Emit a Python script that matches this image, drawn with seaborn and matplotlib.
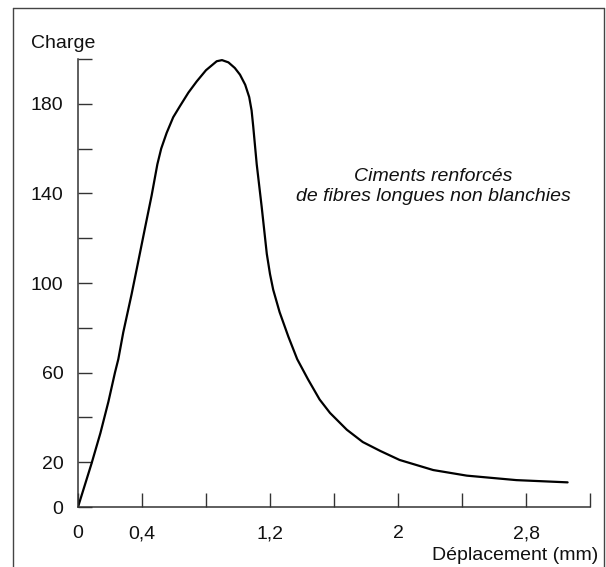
import matplotlib
matplotlib.use('Agg')
import matplotlib.pyplot as plt
import pandas as pd
import seaborn as sns
from matplotlib.lines import Line2D

# load-displacement curve
deplacement = [0.0, 0.085, 0.14, 0.19, 0.231, 0.252, 0.283, 0.335, 0.372,
               0.42, 0.46, 0.496, 0.52, 0.554, 0.595, 0.6375, 0.69, 0.742,
               0.80, 0.867, 0.90, 0.94, 0.98, 1.0125, 1.045, 1.07, 1.085,
               1.095, 1.117, 1.148, 1.18, 1.20, 1.22, 1.26, 1.315, 1.37,
               1.4375, 1.51, 1.575, 1.68, 1.78, 1.89, 2.01, 2.22, 2.43,
               2.74, 3.06]
charge = [0, 19.5, 33, 47, 60, 66, 78, 95, 108,
          125, 139, 153, 160, 167, 174, 179, 185, 190,
          195, 199, 199.5, 198.5, 196, 193, 188.5, 183, 177,
          170, 153, 134, 113, 104, 97, 87, 76, 66,
          57, 48, 42, 34.5, 29, 25, 21, 16.5, 14,
          12, 11]

x_ticks = [0, 0.4, 0.8, 1.2, 1.6, 2.0, 2.4, 2.8, 3.2]
x_ticklabels = ['0', '0,4', '', '1,2', '', '2', '', '2,8', '']
y_ticks = [0, 20, 40, 60, 80, 100, 120, 140, 160, 180, 200]
y_ticklabels = ['0', '20', '', '60', '', '100', '', '140', '', '180', '']

df = pd.DataFrame({'deplacement': deplacement, 'charge': charge})

sns.set_theme(style='ticks')
plt.rcParams['font.family'] = ['Liberation Sans', 'DejaVu Sans']

fig = plt.figure(figsize=(6.06, 5.67), dpi=100)
ax = fig.add_axes([78 / 606, 60 / 567, 512 / 606, 448 / 567])

sns.lineplot(data=df, x='deplacement', y='charge', sort=False,
             color='black', linewidth=1.6, ax=ax)
for line in ax.lines:
    line.set_solid_joinstyle('round')
    line.set_solid_capstyle('round')

ax.set_xlim(0, 3.2)
ax.set_ylim(0, 200)
ax.set_xticks(x_ticks)
ax.set_xticklabels(x_ticklabels)
ax.set_yticks(y_ticks)
ax.set_yticklabels(y_ticklabels)
ax.tick_params(axis='both', direction='in', length=10, width=1,
               color='#333333', labelsize=14, labelcolor='#111111')
ax.tick_params(axis='x', pad=13)
ax.tick_params(axis='y', pad=10.5)
sns.despine(ax=ax)
for s in ['left', 'bottom']:
    ax.spines[s].set_color('#333333')
    ax.spines[s].set_linewidth(1.1)
ax.set_xlabel('')
ax.set_ylabel('')

fig.text(31 / 606, 1 - 43 / 567, 'Charge', ha='left', va='center',
         fontsize=14, color='#111111')
fig.text(598 / 606, 1 - 555 / 567, 'Déplacement (mm)', ha='right',
         va='center', fontsize=14, color='#111111')

ax.text(2.22, 143, 'Ciments renforcés\nde fibres longues non blanchies',
        ha='center', va='center', style='italic', fontsize=14,
        color='#111111', linespacing=1.25)

# thin frame around the figure (no bottom edge)
frame_kw = dict(color='#444444', linewidth=1.0, transform=fig.transFigure)
fig.add_artist(Line2D([13 / 606, 13 / 606], [0, 1 - 8 / 567], **frame_kw))
fig.add_artist(Line2D([13 / 606, 604 / 606], [1 - 8 / 567, 1 - 8 / 567], **frame_kw))
fig.add_artist(Line2D([604 / 606, 604 / 606], [0, 1 - 8 / 567], **frame_kw))

fig.savefig('out.png', dpi=100)
